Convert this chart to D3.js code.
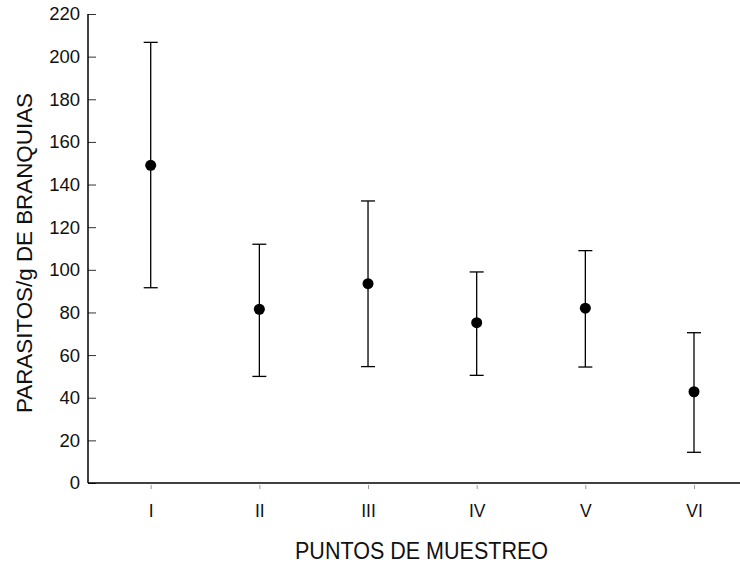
<!DOCTYPE html>
<html>
<head>
<meta charset="utf-8">
<script src="https://cdn.jsdelivr.net/npm/d3@7"></script>
<style>
  body { margin: 0; background: #fff; }
  text { font-family: "Liberation Sans", Arial, sans-serif; fill: #111; }
</style>
</head>
<body>
<svg id="chart" width="740" height="567"></svg>
<script>
// data
const sites = ["I", "II", "III", "IV", "V", "VI"];
const means = [149, 81.5, 93.5, 75.2, 82, 42.8];
const upper = [206.7, 112, 132.3, 99, 109, 70.5];
const lower = [91.6, 50, 54.6, 50.5, 54.4, 14.4];
const yTicks = [0, 20, 40, 60, 80, 100, 120, 140, 160, 180, 200, 220];

const svg = d3.select("#chart");
const m = {left: 88, right: 740, top: 14, bottom: 483};

const x = d3.scalePoint().domain(sites).range([150.7, 694]);
const y = d3.scaleLinear().domain([0, 220]).range([m.bottom, m.top]);

// y axis, ticks pointing inward
const yAxis = svg.append("g")
    .attr("transform", `translate(${m.left},0)`)
    .call(d3.axisRight(y).tickValues(yTicks).tickSize(8).tickFormat(d3.format("d")));
yAxis.select(".domain").remove();
yAxis.selectAll(".tick line").attr("stroke", "#333");
yAxis.selectAll(".tick text")
    .attr("x", -8).attr("text-anchor", "end")
    .style("font-size", "18.5px");
svg.append("line")
    .attr("x1", m.left).attr("x2", m.left).attr("y1", m.top).attr("y2", m.bottom)
    .attr("stroke", "#000").attr("stroke-width", 1.5);

// x axis
const xAxis = svg.append("g")
    .attr("transform", `translate(0,${m.bottom})`)
    .call(d3.axisBottom(x).tickSize(6).tickPadding(16));
xAxis.select(".domain").remove();
xAxis.selectAll(".tick line").attr("stroke", "#999").attr("y1", 2);
xAxis.selectAll(".tick text").style("font-size", "17.5px");
svg.append("line")
    .attr("x1", m.left).attr("x2", m.right).attr("y1", m.bottom).attr("y2", m.bottom)
    .attr("stroke", "#000").attr("stroke-width", 1.5);

// error bars
const rows = sites.map((s, i) => ({s, m: means[i], hi: upper[i], lo: lower[i]}));
const g = svg.append("g");
g.selectAll(".bar").data(rows).join("line")
    .attr("x1", d => x(d.s)).attr("x2", d => x(d.s))
    .attr("y1", d => y(d.hi)).attr("y2", d => y(d.lo))
    .attr("stroke", "#000").attr("stroke-width", 1.3);
g.selectAll(".capHi").data(rows).join("line")
    .attr("x1", d => x(d.s) - 7).attr("x2", d => x(d.s) + 7)
    .attr("y1", d => y(d.hi)).attr("y2", d => y(d.hi))
    .attr("stroke", "#000").attr("stroke-width", 1.3);
g.selectAll(".capLo").data(rows).join("line")
    .attr("x1", d => x(d.s) - 7).attr("x2", d => x(d.s) + 7)
    .attr("y1", d => y(d.lo)).attr("y2", d => y(d.lo))
    .attr("stroke", "#000").attr("stroke-width", 1.3);
g.selectAll("circle").data(rows).join("circle")
    .attr("cx", d => x(d.s)).attr("cy", d => y(d.m)).attr("r", 5.5)
    .attr("fill", "#000");

// axis titles
svg.append("text")
    .attr("x", 295).attr("y", 559)
    .attr("textLength", 253).attr("lengthAdjust", "spacingAndGlyphs")
    .style("font-size", "23px")
    .text("PUNTOS DE MUESTREO");
svg.append("text")
    .attr("transform", "translate(32,413) rotate(-90)")
    .attr("textLength", 320).attr("lengthAdjust", "spacingAndGlyphs")
    .style("font-size", "22.5px")
    .text("PARASITOS/g DE BRANQUIAS");
</script>
</body>
</html>
